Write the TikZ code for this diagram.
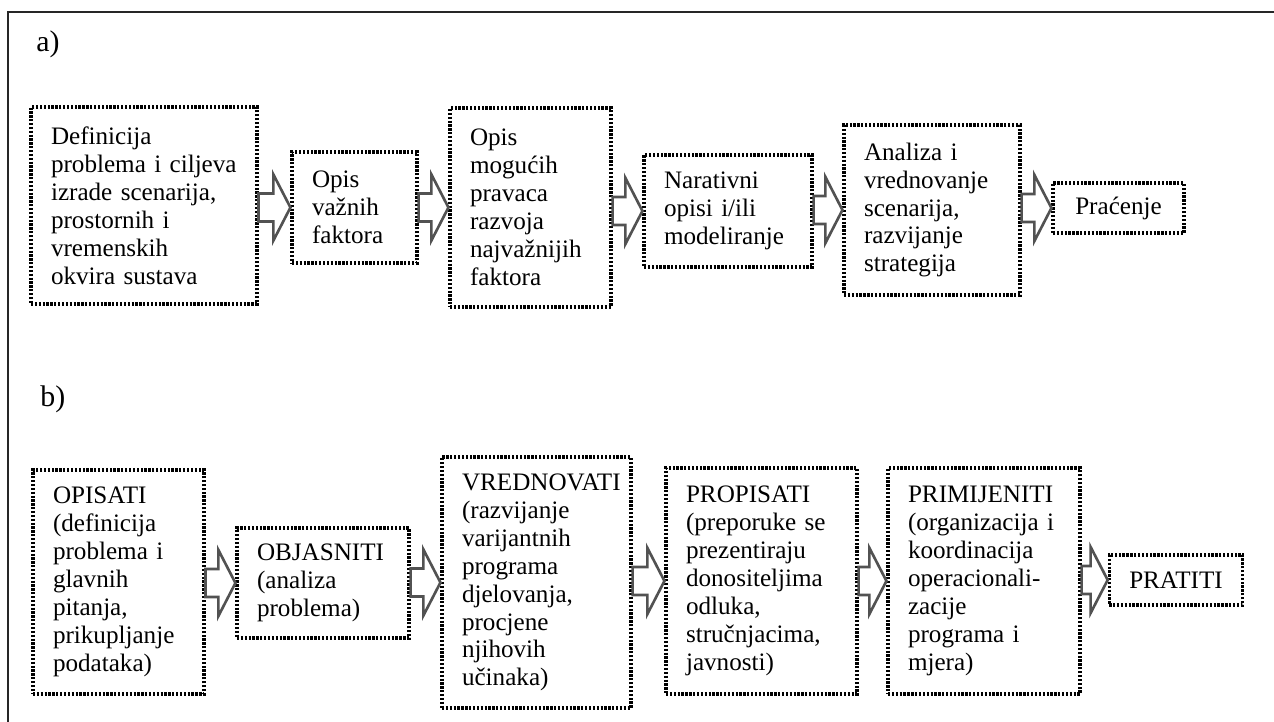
\documentclass[tikz,border=0pt]{standalone}
\usepackage{fontspec}
\setmainfont{Liberation Serif}
\usetikzlibrary{calc,positioning}
\tikzset{korak/.style={draw=black,line width=1.8pt,dash pattern=on 1.3pt off 0.9pt,align=left,inner xsep=0.4cm,inner ysep=0pt,font=\fontsize{14.3pt}{15.9pt}\selectfont}}
\tikzset{oznaka/.style={anchor=west,inner sep=0pt,font=\fontsize{17pt}{20pt}\selectfont}}
\tikzset{blockarr/.style={draw=black!68,line width=1.5pt,fill=white,line join=miter,
	to path={let \p1=(\tikztostart), \p2=(\tikztotarget) in
		(\x1,\y2+8pt) -- (\x2-9.7pt,\y2+8pt) -- (\x2-9.7pt,\y2+18.8pt) -- (\p2)
		-- (\x2-9.7pt,\y2-18.8pt) -- (\x2-9.7pt,\y2-8pt) -- (\x1,\y2-8pt) -- cycle}}}
\hyphenpenalty=10000

\begin{document}
\begin{tikzpicture}[x=0.02cm,y=-0.02cm]
	\useasboundingbox (0,0) rectangle (1274,722);
	\draw[line width=1.2pt,black!85] (8,722) -- (8,12) -- (1274,12);
	
	% a)
	\node[oznaka] (la) at (36,44) {a)};
	\node[korak,text width=3.72cm,minimum height=3.94cm] (a1) at (144,205.5) {Definicija\\problema i ciljeva\\izrade scenarija,\\prostornih i\\vremenskih\\okvira sustava};
	\node[korak,text width=1.70cm,minimum height=2.22cm] (a2) at (354.5,207.5) {Opis\\važnih\\faktora};
	\node[korak,text width=2.42cm,minimum height=3.98cm] (a3) at (530.5,207.5) {Opis\\mogućih\\pravaca\\razvoja\\najvažnijih\\faktora};
	\node[korak,text width=2.56cm,minimum height=2.24cm] (a4) at (728,211) {Narativni\\opisi i/ili\\modeliranje};
	\node[korak,text width=2.72cm,minimum height=3.40cm] (a5) at (932,210) {Analiza i\\vrednovanje\\scenarija,\\razvijanje\\strategija};
	\node[korak,minimum width=2.62cm,minimum height=1.00cm] (a6) at (1118.5,208) {Praćenje};
	
	\draw[blockarr] (a1.east |- a2.west) to (a2.west);
	\draw[blockarr] (a2.east |- a3.west) to (a3.west);
	\draw[blockarr] (a3.east |- a4.west) to (a4.west);
	\draw[blockarr] (a4.east |- a5.west) to (a5.west);
	\draw[blockarr] (a5.east |- a6.west) to (a6.west);
	
	% b)
	\node[oznaka] (lb) at (40,399) {b)};
	\node[korak,text width=2.62cm,minimum height=4.48cm] (b1) at (118.5,582) {OPISATI\\(definicija\\problema i\\glavnih\\pitanja,\\prikupljanje\\podataka)};
	\node[korak,text width=2.64cm,minimum height=2.20cm] (b2) at (323,583) {OBJASNITI\\(analiza\\problema)};
	\node[korak,text width=2.98cm,minimum height=5.02cm] (b3) at (536.5,582.5) {\mbox{VREDNOVATI}\\(razvijanje\\varijantnih\\programa\\djelovanja,\\procjene\\njihovih\\učinaka)};
	\node[korak,text width=3.02cm,minimum height=4.52cm] (b4) at (761.5,581) {PROPISATI\\(preporuke se\\prezentiraju\\donositeljima\\odluka,\\stručnjacima,\\javnosti)};
	\node[korak,text width=3.04cm,minimum height=4.52cm] (b5) at (984,581) {PRIMIJENITI\\(organizacija i\\koordinacija\\operacionali-\\zacije\\programa i\\mjera)};
	\node[korak,minimum width=2.60cm,minimum height=1.00cm] (b6) at (1176,580) {PRATITI};
	
	\draw[blockarr] (b1.east |- b2.west) to (b2.west);
	\draw[blockarr] (b2.east |- b3.west) to (b3.west);
	\draw[blockarr] (b3.east |- b4.west) to (b4.west);
	\draw[blockarr] (b4.east |- b5.west) to (b5.west);
	\draw[blockarr] (b5.east |- b6.west) to (b6.west);
\end{tikzpicture}
\end{document}
